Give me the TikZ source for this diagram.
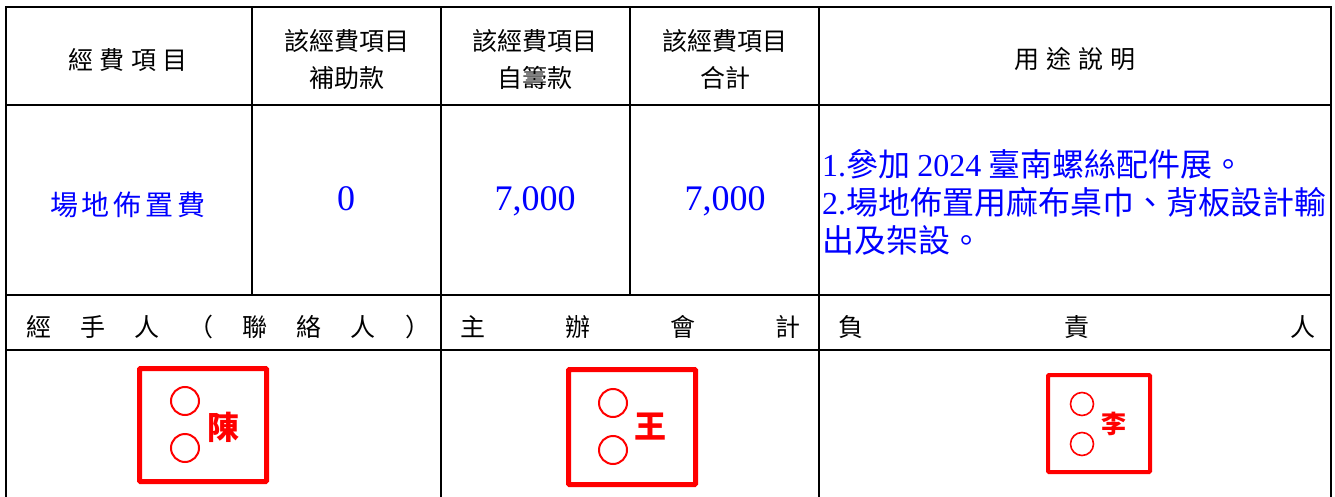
\documentclass[tikz,border=0pt]{standalone}
\usepackage{fontspec}
\setmainfont{Noto Sans CJK TC}
\newfontfamily\tnr{Liberation Serif}
\usetikzlibrary{positioning}

\begin{document}
\begin{tikzpicture}[%
    x=1pt, y=-1pt,              % work in pixel units, top-down
    node distance=19pt,         % gap between the two seal circles
    ]
% -------------------------------------------------
% Text and stamp styles
\tikzset{
  txt/.style={inner sep=0pt, align=center},
  hd/.style={txt, font=\fontsize{25}{37}\selectfont},
  bl/.style={txt, text=blue, font=\fontsize{28}{34}\selectfont},
  num/.style={txt, text=blue, anchor=base, font=\tnr\fontsize{36}{40}\selectfont},
  sig/.style={txt, font=\fontsize{25}{30}\selectfont},
  % Table rules
  grid/.style={draw, line width=2.2pt, line cap=rect},
  % Red seals
  stampbox/.style={draw=red, line width=5pt, rounded corners=1pt, inner sep=0pt},
  seal/.style={circle, draw=red, line width=2pt, inner sep=0pt, outer sep=0pt, minimum size=28pt},
  sealch/.style={txt, text=red, font=\bfseries\fontsize{32}{32}\selectfont}
}
\useasboundingbox (0,0) rectangle (1335,497);
% -------------------------------------------------
% Table rules
\draw[grid] (6,7) -- (1331,7);
\draw[grid] (6,105) -- (1331,105);
\draw[grid] (6,295) -- (1331,295);
\draw[grid] (6,350) -- (1331,350);
\draw[grid] (6,7) -- (6,497);
\draw[grid] (1331,7) -- (1331,497);
\draw[grid] (252,7) -- (252,295);
\draw[grid] (630,7) -- (630,295);
\draw[grid] (441,7) -- (441,497);
\draw[grid] (819,7) -- (819,497);

% -------------------------------------------------
% Header row
\node [hd] (h1) at (128,60) {\makebox[119pt][s]{經\hfill 費\hfill 項\hfill 目}};
\node [hd] (h2) at (347,59) {該經費項目\\補助款};
\node [hd] (h3) at (535,59) {該經費項目\\自籌款};
\node [hd] (h4) at (725,59) {該經費項目\\合計};
\node [hd] (h5) at (1075,59) {\makebox[121pt][s]{用\hfill 途\hfill 說\hfill 明}};

% Item row
\node [bl] (b1) at (128,205) {\makebox[156pt][s]{場\hfill 地\hfill 佈\hfill 置\hfill 費}};
\node [num] (b2) at (346,211) {0};
\node [num] (b3) at (535,211) {7,000};
\node [num] (b4) at (725,211) {7,000};
\node [txt, text=blue, align=left, anchor=west, font=\fontsize{32}{38}\selectfont] (b5) at (822,202)
  {{\tnr 1.}參加 {\tnr 2024} 臺南螺絲配件展。\\{\tnr 2.}場地佈置用麻布桌巾、背板設計輸\\出及架設。};

% Signature row
\node [sig] (s1) at (228,327) {\makebox[404pt][s]{經\hfill 手\hfill 人\hfill （\hfill 聯\hfill 絡\hfill 人\hfill ）}};
\node [sig] (s2) at (630,327) {\makebox[340pt][s]{主\hfill 辦\hfill 會\hfill 計}};
\node [sig] (s3) at (1077,327) {\makebox[477pt][s]{負\hfill 責\hfill 人}};

% -------------------------------------------------
% Seals
\node [stampbox, minimum width=127pt, minimum height=113pt] (st1) at (203,425) {};
\node [seal] (c1a) at (185,401) {};
\node [seal, below=of c1a] (c1b) {};
\node [sealch] (p1) at (223,427) {陳};

\node [stampbox, minimum width=127pt, minimum height=115pt] (st2) at (632,427) {};
\node [seal] (c2a) at (613,403) {};
\node [seal, below=of c2a] (c2b) {};
\node [sealch] (p2) at (650,427) {王};

\node [stampbox, line width=4pt, minimum width=102pt, minimum height=97pt] (st3) at (1099,423.5) {};
\node [seal, line width=1.6pt, minimum size=23pt] (c3a) at (1082,404) {};
\node [seal, line width=1.6pt, minimum size=23pt, below=17pt of c3a] (c3b) {};
\node [sealch, font=\bfseries\fontsize{25}{25}\selectfont] (p3) at (1114,424) {李};

% -------------------------------------------------
\end{tikzpicture}
\end{document}
